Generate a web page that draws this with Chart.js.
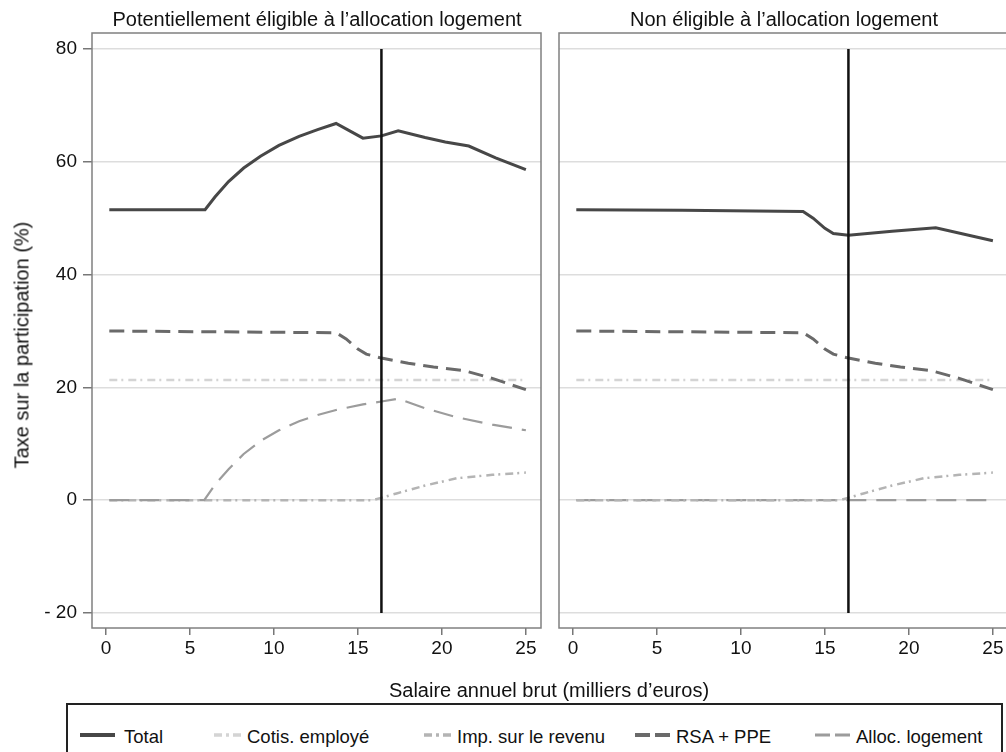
<!DOCTYPE html>
<html>
<head>
<meta charset="utf-8">
<script src="https://cdn.jsdelivr.net/npm/chart.js@4/dist/chart.umd.min.js"></script>
<style>
  body { margin: 0; width: 1006px; height: 752px; overflow: hidden; background: #fff; position: relative;
         font-family: "Liberation Sans", Arial, Helvetica, sans-serif; color: #111; }
  canvas { position: absolute; top: 0; }
  .txt { position: absolute; white-space: nowrap; }
  .ptitle { font-size: 20px; top: 8px; transform: translateX(-50%); }
  #legend { position: absolute; left: 66px; top: 703px; width: 933px; height: 70px; border: 2px solid #222; }
  .lg { position: absolute; font-size: 18.5px; top: 21px; }
  .sw { position: absolute; top: 26px; }
</style>
</head>
<body>
<canvas id="leftChart" width="548" height="680" style="left:0"></canvas>
<canvas id="rightChart" width="470" height="680" style="left:548px"></canvas>

<div class="txt ptitle" style="left:317px">Potentiellement éligible à l’allocation logement</div>
<div class="txt ptitle" style="left:784px">Non éligible à l’allocation logement</div>
<div class="txt" style="left:22px; top:345px; font-size:20px; transform: translate(-50%,-50%) rotate(-90deg);">Taxe sur la participation (%)</div>
<div class="txt" style="left:549px; top:679px; font-size:20px; transform: translateX(-50%);">Salaire annuel brut (milliers d’euros)</div>

<div id="legend"></div>

<script>
'use strict';

// tick labels
const xTicks = [0, 5, 10, 15, 20, 25];
const yTicks = [-20, 0, 20, 40, 60, 80];

// vertical reference line (salary, tax range)
const cutoffSalary = 16.4;
const cutoffRange = [80, -20];

// --- left panel: potentially eligible ---
const salTotalL = [0.2, 5.9, 6.5, 7.3, 8.2, 9.2, 10.3, 11.5, 12.6, 13.7, 15.3, 16.4, 17.4, 19.0, 20.2, 21.6, 23.2, 25.0];
const taxTotalL = [51.5, 51.5, 53.8, 56.5, 58.9, 61.0, 62.9, 64.5, 65.7, 66.8, 64.2, 64.6, 65.5, 64.3, 63.5, 62.8, 60.7, 58.6];

const salAllocL = [0.2, 5.85, 6.5, 7.3, 8.2, 9.2, 10.3, 11.5, 12.6, 13.7, 15.3, 16.4, 17.4, 19.0, 20.9, 23.0, 25.0];
const taxAllocL = [0, 0, 2.8, 5.5, 8.2, 10.5, 12.4, 14.0, 15.1, 16.0, 17.0, 17.5, 18.0, 16.3, 14.7, 13.4, 12.4];

// --- right panel: not eligible ---
const salTotalR = [0.2, 6.5, 13.7, 14.3, 15.0, 15.5, 16.4, 19.0, 21.6, 25.0];
const taxTotalR = [51.5, 51.4, 51.2, 50.0, 48.2, 47.3, 47.0, 47.7, 48.3, 46.0];

const salAllocR = [0.2, 25.0];
const taxAllocR = [0, 0];

// --- shared by both panels ---
const salRsa = [0.2, 13.7, 14.3, 15.0, 15.5, 16.4, 18.0, 19.5, 21.3, 23.0, 25.0];
const taxRsa = [30.0, 29.7, 28.6, 26.8, 25.9, 25.2, 24.3, 23.6, 23.0, 21.6, 19.6];

const salImp = [0.2, 15.9, 17.3, 19.0, 20.9, 23.0, 25.0];
const taxImp = [0, 0, 1.2, 2.6, 3.9, 4.5, 4.9];

const salCotis = [0.2, 25.0];
const taxCotis = [21.3, 21.3];

const seriesNames = ['Total', 'Cotis. employé', 'Imp. sur le revenu', 'RSA + PPE', 'Alloc. logement'];
const seriesColors = ['#474747', '#d4d4d4', '#b4b4b4', '#6a6a6a', '#9c9c9c'];
const seriesDash = [[], [8, 4, 2, 5], [8, 4, 2, 5], [15, 8], [20, 10]];
const seriesWidth = [3, 2.5, 2.5, 3, 2.2];
const legendDash = ['none', '8,4,3,4', '8,4,3,4', '15,5', '15,5'];

const FONT = '"Liberation Sans", Arial, Helvetica, sans-serif';

function pts(xs, ys) {
    return xs.map((x, i) => ({x: x, y: ys[i]}));
}

function line(i, xs, ys, order) {
    return {
        label: seriesNames[i],
        data: pts(xs, ys),
        borderColor: seriesColors[i],
        borderWidth: seriesWidth[i],
        borderDash: seriesDash[i],
        pointRadius: 0,
        tension: 0,
        fill: false,
        order: order
    };
}

const framePlugin = {
    id: 'frame',
    beforeDatasetsDraw(chart) {
        const a = chart.chartArea, ctx = chart.ctx;
        ctx.save();
        ctx.strokeStyle = '#808080';
        ctx.lineWidth = 1.5;
        ctx.strokeRect(a.left, a.top, a.right - a.left, a.bottom - a.top);
        ctx.restore();
    }
};

function makeChart(id, datasets, showY, padRight, yWidth) {
    return new Chart(id, {
        type: 'line',
        data: {datasets: datasets},
        plugins: [framePlugin],
        options: {
            responsive: false,
            animation: false,
            layout: {padding: {top: 33, right: padRight, left: 0, bottom: 0}},
            plugins: {legend: {display: false}, tooltip: {enabled: false}},
            scales: {
                x: {
                    type: 'linear',
                    min: -0.83,
                    max: 25.9,
                    afterBuildTicks: s => { s.ticks = xTicks.map(v => ({value: v})); },
                    afterFit: s => { s.height = 52; },
                    grid: {drawOnChartArea: false, tickLength: 7, tickColor: '#777', lineWidth: 1.5},
                    border: {display: false},
                    ticks: {color: '#111', padding: 2, maxRotation: 0, font: {family: FONT, size: 19}}
                },
                y: {
                    type: 'linear',
                    min: -22.66,
                    max: 82.84,
                    afterBuildTicks: s => { s.ticks = yTicks.map(v => ({value: v})); },
                    afterFit: s => { s.width = yWidth; },
                    grid: {color: '#dddddd', lineWidth: 1.5, drawTicks: showY, tickLength: 9, tickColor: '#777'},
                    border: {display: false},
                    ticks: {
                        display: showY,
                        color: '#111',
                        padding: 6,
                        font: {family: FONT, size: 19},
                        callback: v => v < 0 ? '- ' + Math.abs(v) : String(v)
                    }
                }
            }
        }
    });
}

function cutoffLine() {
    return {
        data: cutoffRange.map(y => ({x: cutoffSalary, y: y})),
        borderColor: '#111',
        borderWidth: 2.5,
        pointRadius: 0,
        order: 0
    };
}

makeChart('leftChart', [
    line(0, salTotalL, taxTotalL, 1),
    line(1, salCotis, taxCotis, 6),
    line(2, salImp, taxImp, 4),
    line(3, salRsa, taxRsa, 2),
    line(4, salAllocL, taxAllocL, 3),
    cutoffLine()
], true, 7, 92);

makeChart('rightChart', [
    line(0, salTotalR, taxTotalR, 1),
    line(1, salCotis, taxCotis, 6),
    line(2, salImp, taxImp, 4),
    line(3, salRsa, taxRsa, 2),
    line(4, salAllocR, taxAllocR, 5),
    cutoffLine()
], false, 10, 11);

// legend built from the series definitions
const legendSwatchX = [12, 146, 356, 567, 747];
const legendSwatchW = [35, 27, 27, 35, 35];
const legendTextX = [56, 179, 389, 608, 788];
const legend = document.getElementById('legend');
seriesNames.forEach((name, i) => {
    const w = legendSwatchW[i];
    const svg = '<svg class="sw" style="left:' + legendSwatchX[i] + 'px" width="' + w + '" height="8">' +
        '<line x1="0" y1="4" x2="' + w + '" y2="4" stroke="' + seriesColors[i] + '" stroke-width="' +
        (seriesWidth[i] + 0.8) + '" stroke-dasharray="' + legendDash[i] + '"/></svg>';
    legend.insertAdjacentHTML('beforeend', svg +
        '<div class="lg" style="left:' + legendTextX[i] + 'px">' + name + '</div>');
});
</script>
</body>
</html>
